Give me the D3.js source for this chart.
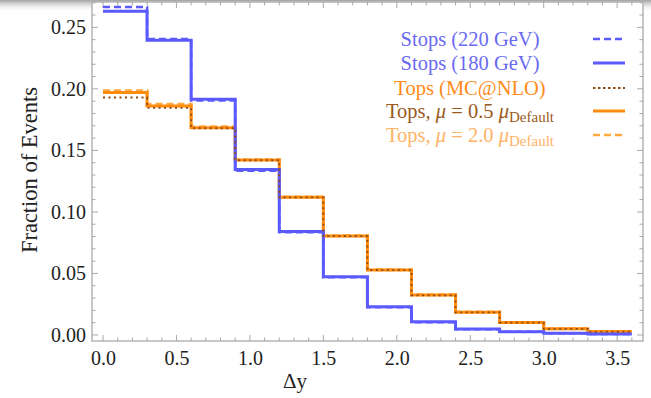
<!DOCTYPE html>
<html><head><meta charset="utf-8">
<script src="https://cdn.jsdelivr.net/npm/d3@7"></script>
<style>html,body{margin:0;padding:0;background:#fff;}svg{display:block;}</style>
</head><body>
<svg id="chart" width="651" height="398"></svg>
<script>
// Bin edges (Δy) and fraction of events per bin
const binEdges = [0.0,0.3,0.6,0.9,1.2,1.5,1.8,2.1,2.4,2.7,3.0,3.3,3.6];
const stops220 = [0.2665,0.2405,0.1905,0.1335,0.0835,0.0470,0.0225,0.0104,0.0047,0.0026,0.0013,0.0008];
const stops180 = [0.2630,0.2395,0.1915,0.1345,0.0840,0.0474,0.0230,0.0108,0.0049,0.0027,0.0014,0.0008];
const topsMCNLO = [0.1930,0.1845,0.1680,0.1420,0.1118,0.0803,0.0527,0.0322,0.0184,0.0100,0.0050,0.0027];
const topsHalf  = [0.1970,0.1860,0.1685,0.1422,0.1120,0.0805,0.0529,0.0324,0.0185,0.0101,0.0050,0.0028];
const topsTwo   = [0.1985,0.1875,0.1692,0.1425,0.1122,0.0807,0.0531,0.0326,0.0186,0.0102,0.0051,0.0028];
const xTicks = [0.0,0.5,1.0,1.5,2.0,2.5,3.0,3.5];
const yTicks = [0.00,0.05,0.10,0.15,0.20,0.25];
const legendLabels = ["Stops (220 GeV)","Stops (180 GeV)","Tops (MC@NLO)","Tops, μ = 0.5 μ","Tops, μ = 2.0 μ"];

const svg = d3.select("#chart");
const L=92, R=643, T=2, B=341;
const x = d3.scaleLinear().domain([-0.0749,3.676]).range([L,R]);
const y = d3.scaleLinear().domain([-0.0049,0.2706]).range([B,T]);

// top shadow
const defs = svg.append("defs");
const g1 = defs.append("linearGradient").attr("id","sh").attr("x1",0).attr("y1",0).attr("x2",0).attr("y2",1);
g1.append("stop").attr("offset",0).attr("stop-color","#8a8a8a").attr("stop-opacity",0.8);
g1.append("stop").attr("offset",1).attr("stop-color","#fff").attr("stop-opacity",0);
svg.append("rect").attr("x",0).attr("y",0).attr("width",651).attr("height",12).attr("fill","url(#sh)");

// frame
const frameCol = "#b4b4b4";
svg.append("rect").attr("x",L).attr("y",T).attr("width",R-L).attr("height",B-T)
  .attr("fill","#fff").attr("stroke",frameCol).attr("stroke-width",1.5);

// ticks (inward, mirrored)
const tg = svg.append("g").attr("stroke","#a8a8a8").attr("stroke-width",1);
const xMinor = d3.range(0,37).map(i=>i/10);
xMinor.forEach(v=>{
  const major = Math.abs(v*2-Math.round(v*2))<1e-6;
  const len = major?6:3.5;
  tg.append("line").attr("x1",x(v)).attr("x2",x(v)).attr("y1",B).attr("y2",B-len);
  tg.append("line").attr("x1",x(v)).attr("x2",x(v)).attr("y1",T).attr("y2",T+len);
});
const yMinor = d3.range(0,28).map(i=>i/100);
yMinor.forEach(v=>{
  const major = (Math.round(v*100)%5)===0;
  const len = major?6:3.5;
  tg.append("line").attr("y1",y(v)).attr("y2",y(v)).attr("x1",L).attr("x2",L+len);
  tg.append("line").attr("y1",y(v)).attr("y2",y(v)).attr("x1",R).attr("x2",R-len);
});

// axis labels via d3 axes (text only)
const font = "Liberation Serif, Times New Roman, serif";
const xAxis = svg.append("g").attr("transform",`translate(0,${B})`)
  .call(d3.axisBottom(x).tickValues(xTicks).tickFormat(d3.format(".1f")).tickSize(0).tickPadding(10));
xAxis.select(".domain").remove();
xAxis.selectAll("text").attr("font-family",font).attr("font-size",20).attr("fill","#222");
const yAxis = svg.append("g").attr("transform",`translate(${L},0)`)
  .call(d3.axisLeft(y).tickValues(yTicks).tickFormat(d3.format(".2f")).tickSize(0).tickPadding(6));
yAxis.select(".domain").remove();
yAxis.selectAll("text").attr("font-family",font).attr("font-size",20).attr("fill","#222");

svg.append("text").attr("x",295).attr("y",388).attr("text-anchor","middle")
  .attr("font-family",font).attr("font-size",21).attr("fill","#222").text("Δy");
svg.append("text").attr("transform","translate(37,170) rotate(-90)").attr("text-anchor","middle")
  .attr("font-family",font).attr("font-size",22.5).attr("fill","#222").text("Fraction of Events");

// step lines
function stepPath(vals){
  const pts=[];
  vals.forEach((v,i)=>{ pts.push([binEdges[i],v]); pts.push([binEdges[i+1],v]); });
  return d3.line().x(d=>x(d[0])).y(d=>y(d[1])).curve(d3.curveLinear)(pts);
}
const cBlue="#5a5aff", cOrange="#ff8c0f", cBrown="#8b4a12", cLight="#ffa940";
const series = [
  {vals:topsTwo, col:cLight, w:3, dash:"7,4"},
  {vals:topsHalf, col:cOrange, w:3, dash:null},
  {vals:stops180, col:cBlue, w:3, dash:null},
  {vals:stops220, col:cBlue, w:2.5, dash:"7,4"},
  {vals:topsMCNLO, col:cBrown, w:1.8, dash:"2,3.5"}
];
const pg = svg.append("g");
series.forEach(s=>{
  const p = pg.append("path").attr("d",stepPath(s.vals)).attr("fill","none")
    .attr("stroke",s.col).attr("stroke-width",s.w).attr("stroke-linejoin","miter");
  if(s.dash) p.attr("stroke-dasharray",s.dash);
});

// legend
const legRows=[39,63,88,111,135];
const legText=["#6a6af2","#6a6af2","#ff8c1a","#9a5a1c","#ffb366"];
const legStyles=[
  {col:cBlue,w:2.5,dash:"7,4"},
  {col:cBlue,w:3,dash:null},
  {col:cBrown,w:2,dash:"2.5,2.5"},
  {col:cOrange,w:3,dash:null},
  {col:cLight,w:2.5,dash:"7,4"}
];
const lg = svg.append("g");
legendLabels.forEach((lab,i)=>{
  const t = lg.append("text").attr("x",470).attr("y",legRows[i]+7).attr("text-anchor","middle")
    .attr("font-family",font).attr("font-size",20.5).attr("fill",legText[i]);
  if(i>=3){
    const parts = lab.split("μ");
    t.append("tspan").text(parts[0]);
    t.append("tspan").attr("font-style","italic").text("μ");
    t.append("tspan").text(parts[1]);
    t.append("tspan").attr("font-style","italic").text("μ");
    t.append("tspan").attr("font-size",15).attr("dy",4).text("Default");
  } else t.text(lab);
  const ln = lg.append("line").attr("x1",593).attr("x2",625).attr("y1",legRows[i]).attr("y2",legRows[i])
    .attr("stroke",legStyles[i].col).attr("stroke-width",legStyles[i].w);
  if(legStyles[i].dash) ln.attr("stroke-dasharray",legStyles[i].dash);
});
</script>
</body></html>
